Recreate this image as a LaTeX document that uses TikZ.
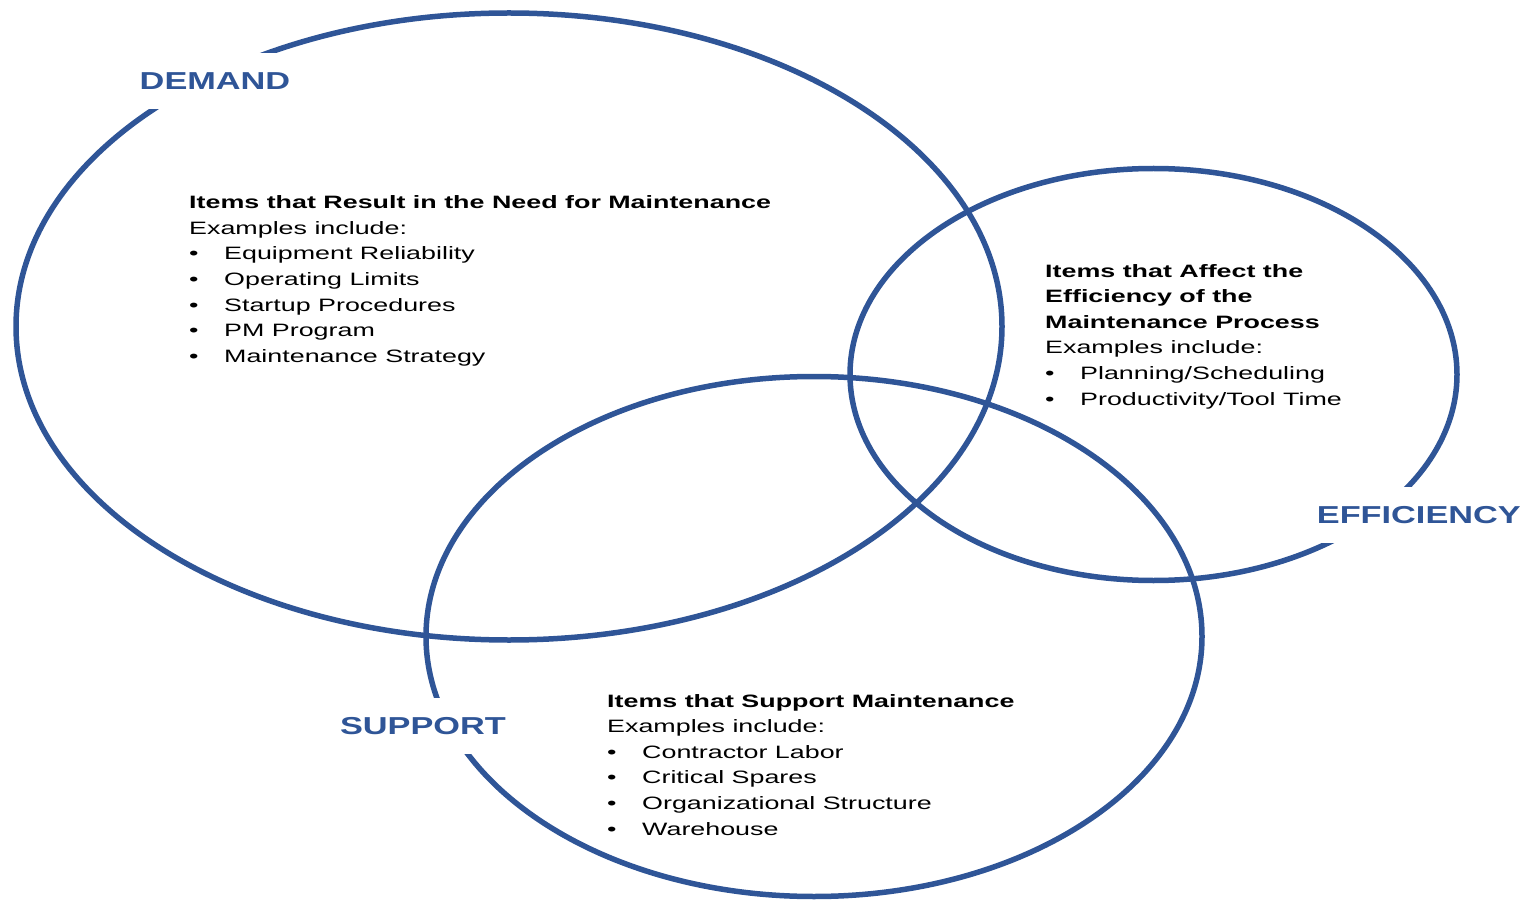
\documentclass[tikz,border=0pt]{standalone}
\usepackage{fontspec}
\setmainfont{Liberation Sans}[FakeStretch=1.5]
\newfontfamily\tagfont{Liberation Sans}[FakeStretch=1.4]
\usepackage{xcolor}
\usepackage{tikz}
\definecolor{vennblue}{HTML}{2F5597}
\newcommand\bodysize{\fontsize{17.9}{25.6}\selectfont}
\newcommand\tagsize{\fontsize{24.5}{28}\selectfont}
\newcommand\itm[1]{\makebox[35pt][l]{\textbullet}#1}
\tikzstyle{ring}=[draw=vennblue,line width=5.5pt]
\tikzstyle{tag} =[fill=white,text=vennblue,font=\tagfont\tagsize\bfseries,inner xsep=8pt,minimum height=56pt]
\tikzstyle{items}=[anchor=north west,align=left,inner sep=0pt,font=\bodysize]

\begin{document}
\begin{tikzpicture}[x=1pt,y=-1pt]
	\useasboundingbox (0,0) rectangle (1521,901);
	\coordinate (demand) at (509,326.5);
	\coordinate (efficiency) at (1153.5,374.5);
	\coordinate (support) at (814,636.5);
	\draw[ring] (demand) ellipse [x radius=493, y radius=313.5];
	\draw[ring] (efficiency) ellipse [x radius=303.5, y radius=206];
	\draw[ring] (support) ellipse [x radius=388, y radius=260];
	\node[tag] (demandtag) at (215,81) {DEMAND};
	\node[tag,anchor=east,inner xsep=6pt] (efficiencytag) at (1527,515) {EFFICIENCY};
	\node[tag] (supporttag) at (423,726) {SUPPORT};
	\node[items] (demanditems) at (189,195.5) {\textbf{Items that Result in the Need for Maintenance}\\
		Examples include:\\ \itm{Equipment Reliability}\\ \itm{Operating Limits}\\
		\itm{Startup Procedures}\\ \itm{PM Program}\\ \itm{Maintenance Strategy}};
	\node[items] (efficiencyitems) at (1045,264) {\textbf{Items that Affect the}\\
		\textbf{Efficiency of the}\\ \textbf{Maintenance Process}\\ Examples include:\\
		\itm{Planning/Scheduling}\\ \itm{Productivity/Tool Time}};
	\node[items] (supportitems) at (607,694) {\textbf{Items that Support Maintenance}\\
		Examples include:\\ \itm{Contractor Labor}\\ \itm{Critical Spares}\\
		\itm{Organizational Structure}\\ \itm{Warehouse}};
\end{tikzpicture}
\end{document}
